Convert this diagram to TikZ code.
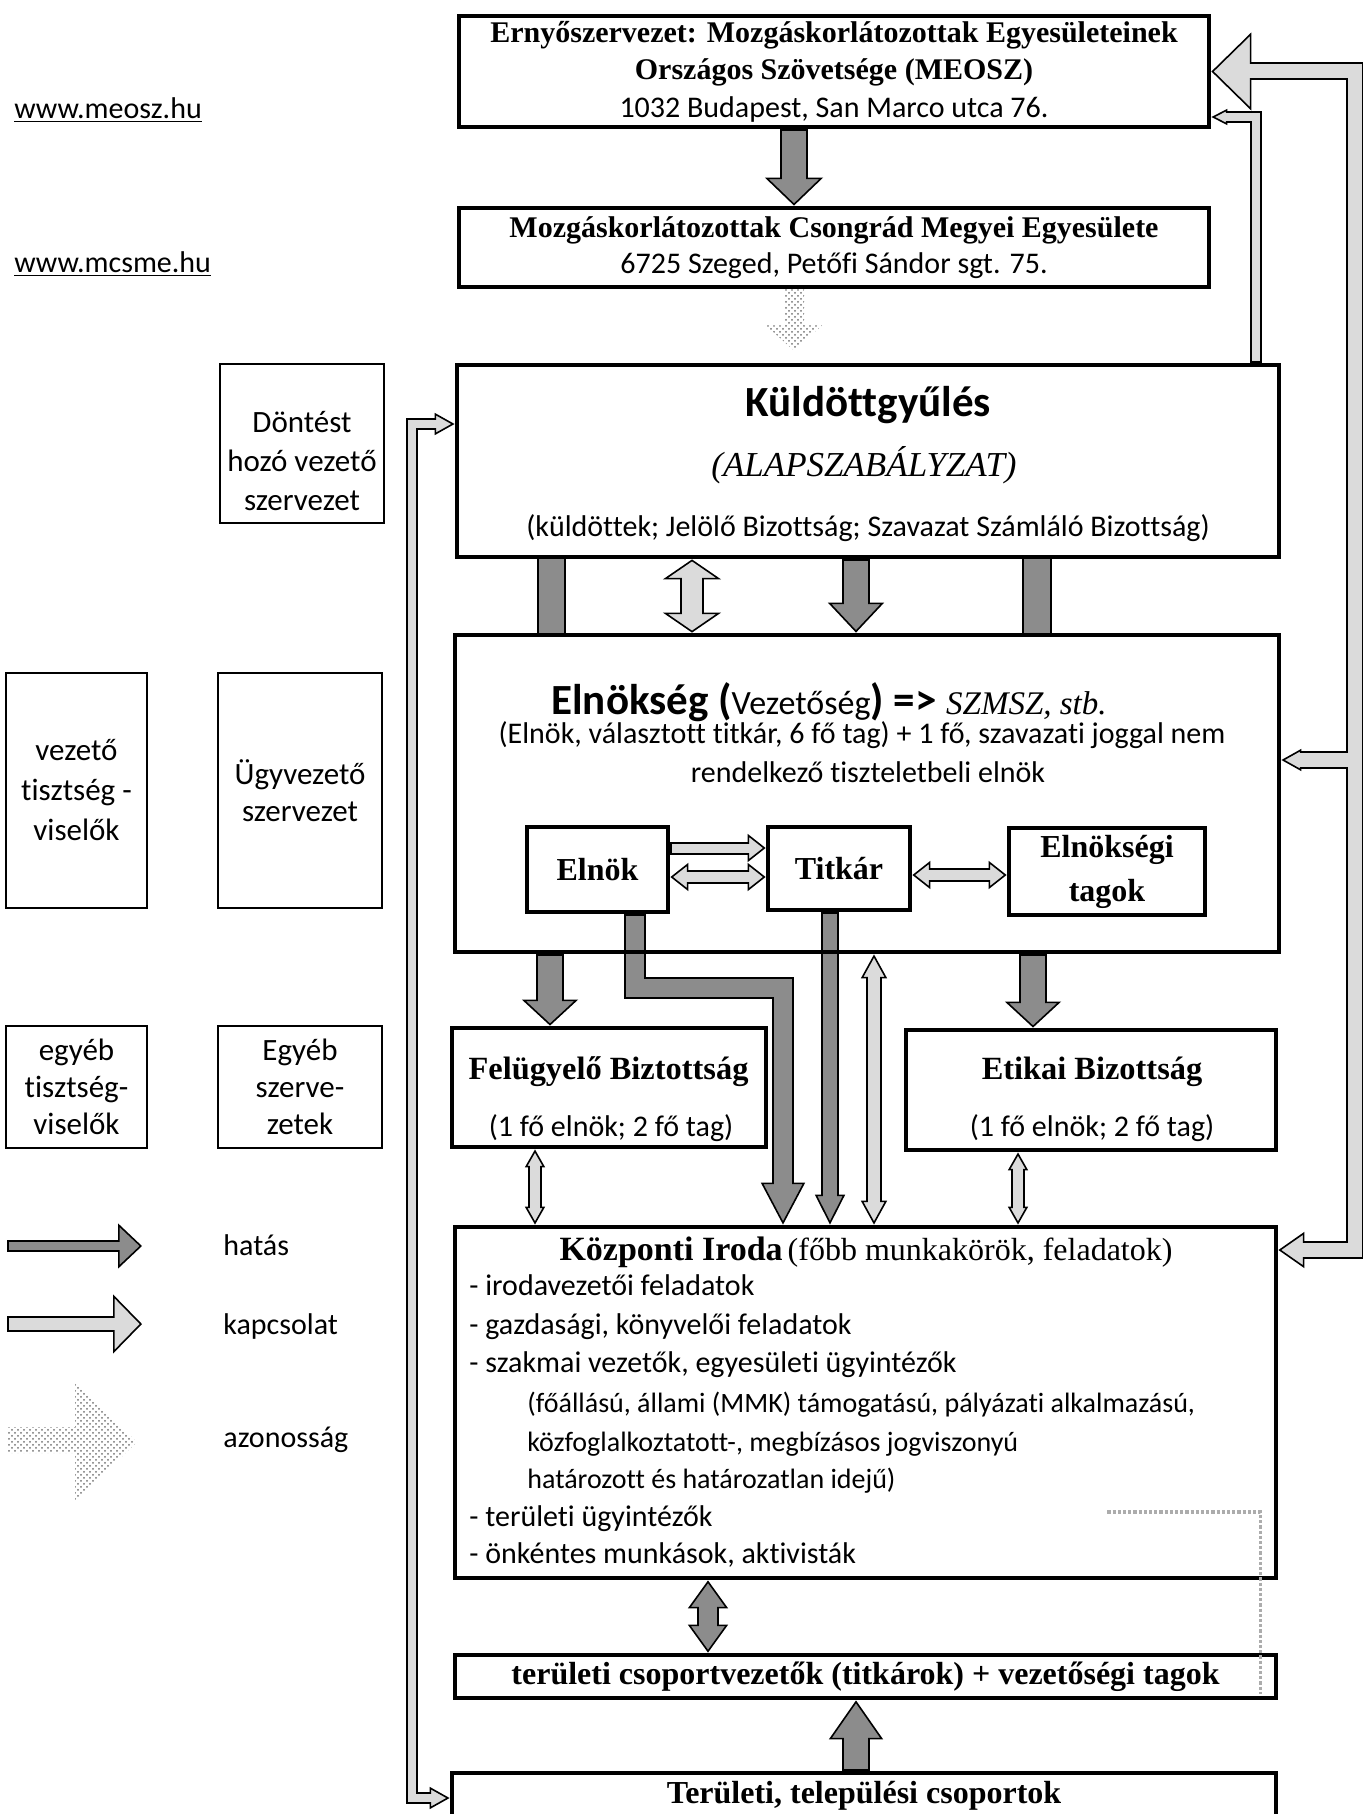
\documentclass[tikz,border=0pt]{standalone}
\usepackage{fontspec}
\setmainfont{Liberation Serif}
\newfontfamily\calib[Ligatures=NoCommon]{Carlito}
\usetikzlibrary{arrows.meta,calc,patterns,backgrounds}
\definecolor{hat}{gray}{0.55}
\definecolor{kap}{gray}{0.86}
\newcommand\fsz[2]{\fontsize{#1}{#2}\selectfont}
\tikzset{
  shO/.style={draw=black, line width=#1, line join=miter},
  shI/.style={draw, line width=#1, line join=miter},
  ftip/.style n args={3}{draw=black, line width=0.8pt, -{Triangle[width=#2, length=#3, fill=#1, line width=0.8pt]}},
  azon/.style={pattern=crosshatch dots, pattern color=black!55},
  mbox/.style={draw, line width=2.4pt, inner sep=0pt, align=center},
  lbox/.style={draw, line width=1.2pt, inner sep=0pt, align=center, font=\calib\fsz{15.5}{19.5}},
  txt/.style={inner sep=0pt, align=center},
  item/.style={inner sep=0pt, anchor=west, text height=10pt, text depth=3pt, font=\calib\fsz{15}{18}},
  itemi/.style={item, font=\calib\fsz{14}{17}},
}
\newcommand\FP[7]{%
  \pgfmathsetlengthmacro\FAo{#2+2pt}%
  \draw[shO=\FAo] #5;
  \draw[ftip={#1}{#3}{#4}] #6 -- #7;
  \draw[shI=#2, #1, shorten >=-2pt, shorten <=1pt] #5;
}
\newcommand\FDP[9]{%
  \pgfmathsetlengthmacro\FAo{#2+2pt}%
  \draw[shO=\FAo] #5;
  \draw[ftip={#1}{#3}{#4}] #6 -- #7;
  \draw[ftip={#1}{#3}{#4}] #8 -- #9;
  \draw[shI=#2, #1, shorten >=-2pt, shorten <=-2pt] #5;
}
\newcommand\FB[3]{%
  \pgfmathsetlengthmacro\FAo{#2+2pt}%
  \draw[shO=\FAo] #3;
  \draw[shI=#2, #1] #3;
}
\begin{document}
\begin{tikzpicture}[x=0.5pt,y=-0.5pt]
\useasboundingbox (0,0) rectangle (1362,1814);

% ---------- main column boxes ----------
\node[mbox, minimum width=375pt, minimum height=55.5pt, font=\fsz{15}{18.75}] (meosz) at (834,71.5)
  {{\bfseries Ernyőszervezet: Mozgáskorlátozottak Egyesületeinek}\\{\bfseries Országos Szövetsége (MEOSZ)}\\{\calib 1032 Budapest, San Marco utca 76.}};
\node[mbox, minimum width=375pt, minimum height=39.5pt, font=\fsz{15}{18}] (csong) at (834,247.5)
  {{\bfseries Mozgáskorlátozottak Csongrád Megyei Egyesülete}\\{\calib 6725 Szeged, Petőfi Sándor sgt. 75.}};

\node[mbox, minimum width=411pt, minimum height=96pt] (kuld) at (868,461) {};
\node[txt, font=\calib\bfseries\fsz{21.5}{26}] (kuldA) at (868,405) {Küldöttgyűlés};
\node[txt, font=\itshape\fsz{17.5}{21}] (kuldB) at (864,465) {(ALAPSZABÁLYZAT)};
\node[txt, font=\calib\fsz{15}{18}] (kuldC) at (868,528) {(küldöttek; Jelölő Bizottság; Szavazat Számláló Bizottság)};

\node[mbox, minimum width=412pt, minimum height=158.5pt] (elnokseg) at (867,793.5) {};
\node[txt] (elA) at (829,702) {{\calib\bfseries\fsz{21.5}{26}Elnökség (}{\calib\fsz{17}{20}Vezetőség}{\calib\bfseries\fsz{21.5}{26}) =>~}{\itshape\fsz{16.5}{20}SZMSZ, stb.}};
\node[txt, font=\calib\fsz{15}{18}] (elB) at (862,735) {(Elnök, választott titkár, 6 fő tag) + 1 fő, szavazati joggal nem};
\node[txt, font=\calib\fsz{15}{18}] (elC) at (868,772) {rendelkező tiszteletbeli elnök};

\node[mbox, minimum width=70.5pt, minimum height=42.5pt, font=\bfseries\fsz{16}{20}] (elnok) at (597.5,869.5) {Elnök};
\node[mbox, minimum width=71pt, minimum height=41.5pt, font=\bfseries\fsz{16}{20}] (titkar) at (839,868.5) {Titkár};
\node[mbox, minimum width=98pt, minimum height=43.5pt, font=\bfseries\fsz{16}{22}] (tagok) at (1107,871.5) {Elnökségi\\tagok};

\node[mbox, minimum width=157pt, minimum height=59.5pt] (felugy) at (609,1087.5) {};
\node[txt, font=\bfseries\fsz{16.2}{20}] (fA) at (608.5,1072) {Felügyelő Biztottság};
\node[txt, font=\calib\fsz{15}{18}] (fB) at (611,1128) {(1 fő elnök; 2 fő tag)};
\node[mbox, minimum width=185pt, minimum height=60pt] (etikai) at (1091,1090) {};
\node[txt, font=\bfseries\fsz{16.2}{20}] (eA) at (1092,1072) {Etikai Bizottság};
\node[txt, font=\calib\fsz{15}{18}] (eB) at (1092,1128) {(1 fő elnök; 2 fő tag)};

\node[mbox, minimum width=410.5pt, minimum height=175.5pt] (kozp) at (865.5,1402.5) {};
\node[txt] (kA) at (866,1252) {{\bfseries\fsz{17}{20}Központi Iroda} {\fsz{16}{20}(főbb munkakörök, feladatok)}};
\node[item] (k1) at (469,1288) {- irodavezetői feladatok};
\node[item] (k2) at (469,1327) {- gazdasági, könyvelői feladatok};
\node[item] (k3) at (469,1365) {- szakmai vezetők, egyesületi ügyintézők};
\node[itemi] (k4) at (527,1405) {(főállású, állami (MMK) támogatású, pályázati alkalmazású,};
\node[itemi] (k5) at (527,1444) {közfoglalkoztatott-, megbízásos jogviszonyú};
\node[itemi] (k6) at (527,1481) {határozott és határozatlan idejű)};
\node[item] (k7) at (469,1519) {- területi ügyintézők};
\node[item] (k8) at (469,1556) {- önkéntes munkások, aktivisták};

\node[mbox, minimum width=410.5pt, minimum height=21.5pt, font=\bfseries\fsz{16}{19}] (tercsop) at (865.5,1676.5) {területi csoportvezetők (titkárok) + vezetőségi tagok};
\node[mbox, minimum width=412pt, minimum height=23pt, font=\bfseries\fsz{16}{19}] (terul) at (864,1796) {Területi, települési csoportok};

% ---------- left column ----------
\node[txt, anchor=west, font=\calib\fsz{15}{18}] (url1) at (14,110) {\underline{www.meosz.hu}};
\node[txt, anchor=west, font=\calib\fsz{15}{18}] (url2) at (14,264) {\underline{www.mcsme.hu}};

\node[lbox, minimum width=82pt, minimum height=79.5pt] (dontes) at (302,443.5) {};
\node[txt, font=\calib\fsz{15.5}{19.5}] (dontesT) at (302,461) {Döntést\\hozó vezető\\szervezet};
\node[lbox, minimum width=70.5pt, minimum height=117.5pt, font=\calib\fsz{15.5}{20}] (vezeto) at (76.5,790.5) {vezető\\tisztség -\\viselők};
\node[lbox, minimum width=82pt, minimum height=117.5pt, font=\calib\fsz{15.5}{18.5}] (ugyv) at (300,790.5) {Ügyvezető\\szervezet};
\node[lbox, minimum width=70.5pt, minimum height=61pt, font=\calib\fsz{15.5}{18.5}] (egyeb1) at (76.5,1087) {egyéb\\tisztség-\\viselők};
\node[lbox, minimum width=82pt, minimum height=61pt, font=\calib\fsz{15.5}{18.5}] (egyeb2) at (300,1087) {Egyéb\\szerve-\\zetek};

\node[item] (lgHt) at (223,1248) {hatás};
\node[item] (lgKt) at (223,1327) {kapcsolat};
\node[item] (lgAt) at (223,1440) {azonosság};
\coordinate (lgH0) at (7,1246); \coordinate (lgH1) at (118,1246); \coordinate (lgH2) at (142,1246);
\coordinate (lgK0) at (7,1324); \coordinate (lgK1) at (113,1324); \coordinate (lgK2) at (142,1324);

% ---------- connectors ----------
\begin{pgfonlayer}{background}
% MEOSZ -> Csongrad
\FP{hat}{12pt}{29pt}{14pt}{($(meosz.south)+(-40,0)$) -- ($(csong.north)+(-40,-28)$)}{($(csong.north)+(-40,-28)$)}{($(csong.north)+(-40,0)$)}
% Csongrad -> Kuldottgyules (azonossag)
\fill[azon] ($(csong.south)+(-50,0)$) -- ++(0,36) -- ++(-18,0) -- ($(kuld.north)+(-74,-12)$) -- ($(csong.south)+(-12,36)$) -- ++(-18,0) -- ++(0,-36) -- cycle;
% pillars
\FB{hat}{12.5pt}{($(kuld.south)+(-317,0)$) -- ($(elnokseg.north)+(-316,0)$)}
\FB{hat}{13pt}{($(kuld.south)+(169,0)$) -- ($(elnokseg.north)+(170,0)$)}
% double kapcsolat Kuld <-> Elnokseg
\FDP{kap}{10pt}{29pt}{10pt}{($(kuld.south)+(-176,20)$) -- ($(elnokseg.north)+(-175,-20)$)}{($(kuld.south)+(-176,20)$)}{($(kuld.south)+(-176,0)$)}{($(elnokseg.north)+(-175,-20)$)}{($(elnokseg.north)+(-175,0)$)}
% hatas Kuld -> Elnokseg
\FP{hat}{12pt}{28pt}{15pt}{($(kuld.south)+(-12,0)$) -- ($(elnokseg.north)+(-11,-30)$)}{($(elnokseg.north)+(-11,-30)$)}{($(elnokseg.north)+(-11,0)$)}
% Elnok -> Titkar
\FP{kap}{4.5pt}{14pt}{9pt}{($(elnok.east)+(0,-21.5)$) -- ($(titkar.west)+(-18,-20.5)$)}{($(titkar.west)+(-18,-20.5)$)}{($(titkar.west)+(0,-20.5)$)}
% Elnok <-> Titkar
\FDP{kap}{5pt}{14pt}{9pt}{($(elnok.east)+(18,7.5)$) -- ($(titkar.west)+(-18,8.5)$)}{($(elnok.east)+(18,7.5)$)}{($(elnok.east)+(0,7.5)$)}{($(titkar.west)+(-18,8.5)$)}{($(titkar.west)+(0,8.5)$)}
% Titkar <-> tagok
\FDP{kap}{5pt}{14pt}{9pt}{($(titkar.east)+(18,6.5)$) -- ($(tagok.west)+(-18,3.5)$)}{($(titkar.east)+(18,6.5)$)}{($(titkar.east)+(0,6.5)$)}{($(tagok.west)+(-18,3.5)$)}{($(tagok.west)+(0,3.5)$)}
% Elnok -> Kozponti (L)
\FP{hat}{9pt}{22pt}{21pt}{($(elnok.south)+(37.5,0)$) |- ($(kozp.north)+(-82.5,-237)$) -- ($(kozp.north)+(-82.5,-42)$)}{($(kozp.north)+(-82.5,-42)$)}{($(kozp.north)+(-82.5,0)$)}
% Titkar -> Kozponti
\FP{hat}{7pt}{15pt}{15pt}{($(titkar.south)+(-9,0)$) -- ($(kozp.north)+(-35.5,-30)$)}{($(kozp.north)+(-35.5,-30)$)}{($(kozp.north)+(-35.5,0)$)}
% Elnokseg <-> Kozponti
\FDP{kap}{6pt}{13pt}{12pt}{($(elnokseg.south)+(7,24)$) -- ($(kozp.north)+(8.5,-24)$)}{($(elnokseg.south)+(7,24)$)}{($(elnokseg.south)+(7,0)$)}{($(kozp.north)+(8.5,-24)$)}{($(kozp.north)+(8.5,0)$)}
% Elnokseg -> Felugyelo, Etikai
\FP{hat}{12pt}{28pt}{13pt}{($(elnokseg.south)+(-317,0)$) -- ($(felugy.north)+(-59,-26)$)}{($(felugy.north)+(-59,-26)$)}{($(felugy.north)+(-59,0)$)}
\FP{hat}{12pt}{28pt}{13pt}{($(elnokseg.south)+(166,0)$) -- ($(etikai.north)+(-58,-26)$)}{($(etikai.north)+(-58,-26)$)}{($(etikai.north)+(-58,0)$)}
% Felugyelo / Etikai <-> Kozponti
\FDP{kap}{5pt}{10pt}{9pt}{($(felugy.south)+(-74,18)$) -- ($(kozp.north)+(-330.5,-18)$)}{($(felugy.south)+(-74,18)$)}{($(felugy.south)+(-74,0)$)}{($(kozp.north)+(-330.5,-18)$)}{($(kozp.north)+(-330.5,0)$)}
\FDP{kap}{5pt}{10pt}{9pt}{($(etikai.south)+(-73,18)$) -- ($(kozp.north)+(152.5,-18)$)}{($(etikai.south)+(-73,18)$)}{($(etikai.south)+(-73,0)$)}{($(kozp.north)+(152.5,-18)$)}{($(kozp.north)+(152.5,0)$)}
% Kozponti <-> teruleti csoportvezetok
\FDP{hat}{9pt}{20pt}{14pt}{($(kozp.south)+(-157.5,28)$) -- ($(tercsop.north)+(-157.5,-28)$)}{($(kozp.south)+(-157.5,28)$)}{($(kozp.south)+(-157.5,0)$)}{($(tercsop.north)+(-157.5,-28)$)}{($(tercsop.north)+(-157.5,0)$)}
% Teruleti csoportok -> csoportvezetok
\FP{hat}{12pt}{27pt}{19.5pt}{($(terul.north)+(-8,0)$) -- ($(tercsop.south)+(-9.5,39)$)}{($(tercsop.south)+(-9.5,39)$)}{($(tercsop.south)+(-9.5,0)$)}
% right big connector (MEOSZ, Elnokseg, Kozponti)
\draw[shO=9pt] ($(meosz.east)+(40,0)$) -- ($(meosz.east)+(144,0)$) |- ($(kozp.east)+(26,-152.5)$);
\draw[shO=9pt] ($(elnokseg.east)+(74,-33.5)$) -- ($(elnokseg.east)+(20,-33.5)$);
\draw[ftip={kap}{39pt}{20pt}] ($(meosz.east)+(40,0)$) -- (meosz.east);
\draw[ftip={kap}{11pt}{10pt}] ($(elnokseg.east)+(20,-33.5)$) -- ($(elnokseg.east)+(0,-33.5)$);
\draw[ftip={kap}{18pt}{13pt}] ($(kozp.east)+(26,-152.5)$) -- ($(kozp.east)+(0,-152.5)$);
\draw[shI=7pt, kap, shorten <=-2pt, shorten >=-2pt] ($(meosz.east)+(40,0)$) -- ($(meosz.east)+(144,0)$) |- ($(kozp.east)+(26,-152.5)$);
\draw[shI=7pt, kap, shorten >=-2pt] ($(elnokseg.east)+(74,-33.5)$) -- ($(elnokseg.east)+(20,-33.5)$);
% thin right: Kuld -> MEOSZ
\FP{kap}{4pt}{8pt}{8pt}{($(kuld.north)+(388,0)$) |- ($(meosz.east)+(16,45.5)$)}{($(meosz.east)+(16,45.5)$)}{($(meosz.east)+(0,45.5)$)}
% left long: Kuld <-> Teruleti csoportok
\FDP{kap}{4pt}{11pt}{10pt}{($(kuld.west)+(-20,-37)$) -| ($(terul.west)+(-38,2)$) -- ($(terul.west)+(-20,2)$)}{($(kuld.west)+(-20,-37)$)}{($(kuld.west)+(0,-37)$)}{($(terul.west)+(-20,2)$)}{($(terul.west)+(0,2)$)}
% legend
\FP{hat}{4pt}{22.5pt}{12pt}{(lgH0) -- (lgH1)}{(lgH1)}{(lgH2)}
\FP{kap}{6pt}{29.5pt}{14.5pt}{(lgK0) -- (lgK1)}{(lgK1)}{(lgK2)}
\fill[azon] (7,1427) -- (75,1427) -- (75,1382) -- (137,1442) -- (75,1502) -- (75,1453) -- (7,1453) -- cycle;
\end{pgfonlayer}

% dotted azonossag line Kozponti -> csoportvezetok
\draw[gray!65, line width=1.6pt, densely dotted] ($(kozp.east)+(-171,109.5)$) -- ($(kozp.east)+(-18,109.5)$) -- ($(tercsop.south east)+(-18,-6)$);
\end{tikzpicture}
\end{document}
